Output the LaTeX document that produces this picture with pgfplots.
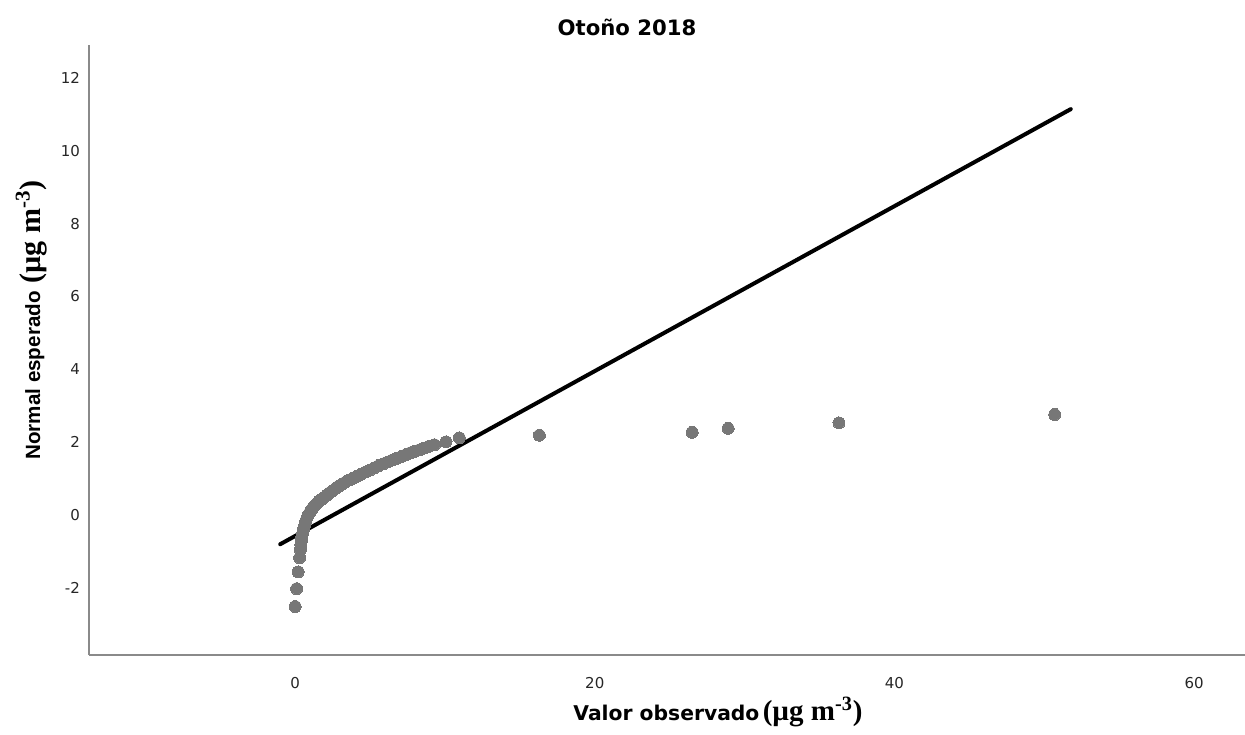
\documentclass[border=0pt]{standalone}
\usepackage{pgfplots}
\pgfplotsset{compat=1.18}
\usepackage{fontspec}
\setmainfont{DejaVu Sans}
\newfontfamily\dejavu{DejaVu Sans}
\newfontfamily\libsans{Liberation Sans}
\newfontfamily\libserif{Liberation Serif}
\definecolor{ptgray}{HTML}{777777}
\definecolor{axgray}{HTML}{8A8A8A}

% Q-Q points: observed value vs. expected normal quantile
\pgfplotstableread{
x y
0.00 -2.51
0.10 -2.02
0.20 -1.56
0.30 -1.17
0.35 -0.95
0.38 -0.82
0.42 -0.70
0.45 -0.60
0.50 -0.50
0.55 -0.41
0.60 -0.32
0.66 -0.23
0.72 -0.15
0.80 -0.07
0.88 0.00
0.98 0.07
1.08 0.14
1.18 0.20
1.30 0.26
1.45 0.32
1.60 0.38
1.78 0.44
1.95 0.49
2.12 0.55
2.30 0.61
2.50 0.67
2.70 0.73
2.90 0.79
3.10 0.84
3.35 0.90
3.60 0.96
3.85 1.01
4.10 1.06
4.40 1.12
4.70 1.18
5.00 1.24
5.30 1.30
5.60 1.36
5.90 1.41
6.20 1.46
6.50 1.51
6.80 1.56
7.10 1.61
7.40 1.66
7.70 1.71
8.00 1.75
8.30 1.79
8.60 1.84
8.90 1.88
9.30 1.93
10.07 2.01
10.96 2.12
16.30 2.19
26.50 2.27
28.90 2.38
36.30 2.53
50.70 2.76
}\qqdata

\begin{document}
\begin{tikzpicture}
\useasboundingbox (0,0) rectangle (622.5pt,367pt);
\begin{axis}[
  at={(44.5pt,39.5pt)}, anchor=south west,
  scale only axis,
  width=578pt, height=305pt,
  xmin=-13.76, xmax=63.4,
  ymin=-3.84, ymax=12.9,
  axis x line*=bottom, axis y line*=left,
  axis line style={axgray, line width=0.75pt},
  major tick length=0pt,
  xtick={0,20,40,60},
  ytick={-2,0,2,4,6,8,10,12},
  /pgf/number format/assume math mode=true,
  tick label style={font=\dejavu\fontsize{7.5pt}{9pt}\selectfont, text=black!85},
  xticklabel shift=7.5pt,
  yticklabel shift=1.0pt,
  clip=false,
]
\addplot[only marks, mark=*, mark size=3pt,
  mark options={fill=ptgray, draw=ptgray, line width=0pt}] table[x=x,y=y] {\qqdata};
\addplot[black, line width=2pt, line cap=round] coordinates {(-1.0,-0.80) (51.77,11.14)};
\end{axis}
\node[anchor=base, font=\dejavu\bfseries\fontsize{10.6pt}{12pt}\selectfont] at (313.5pt,349pt) {Otoño 2018};
\node[anchor=base west, inner sep=0pt] at (286.5pt,6.65pt)
  {{\dejavu\bfseries\fontsize{10.15pt}{12pt}\selectfont Valor observado}\,{\libserif\bfseries\fontsize{14.5pt}{16pt}\selectfont(µg m\textsuperscript{-3})}};
\node[rotate=90, anchor=base west, inner sep=0pt] at (20pt,137pt)
  {{\libsans\bfseries\fontsize{10.3pt}{12pt}\selectfont Normal esperado}\hspace{4pt}{\libserif\bfseries\fontsize{15pt}{17pt}\selectfont(µg m\textsuperscript{-3})}};
\end{tikzpicture}
\end{document}
